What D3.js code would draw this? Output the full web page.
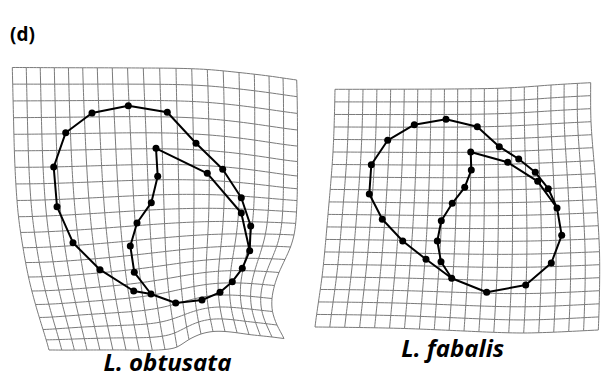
<!DOCTYPE html>
<html>
<head>
<meta charset="utf-8">
<script src="https://cdn.jsdelivr.net/npm/d3@7"></script>
<style>
  body { margin: 0; background: #fff; }
  text { font-family: "Open Sans", sans-serif; }
</style>
</head>
<body>
<svg id="chart" width="605" height="379"></svg>
<script>
const GRID_LINES = 20;

// L. obtusata landmarks (digitised units), outer lip first, then inner lip
const obtusataPoints = [
  [128.3, 45.7], [167.3, 52.3], [196, 83.3], [222.7, 109.3], [241.3, 137.7],
  [250.7, 166], [249.7, 190.7], [242.3, 208.3], [232.3, 221.7], [220, 232.3],
  [202, 240], [175.7, 243], [151, 234], [133.7, 231], [100, 209.7],
  [73, 182.7], [57, 146.7], [53.7, 107], [65.7, 72.7], [92, 53],
  [156, 88.3], [157.7, 116.3], [151.3, 142.7], [137, 163], [130.3, 186],
  [134.3, 212.3], [207.3, 113.3], [241.3, 153]
];
const obtusataPaths = [
  [0, 1, 2, 3, 4, 5, 6, 7, 8, 9, 10, 11, 12, 13, 14, 15, 16, 17, 18, 19, 0],
  [20, 21, 22, 23, 24, 25, 12],
  [20, 26, 27, 6]
];
// deformation grid nodes: [column, row, x, y]
const obtusataGrid = [
  [0, 0, 12.3, 7.5], [3, 0, 54.3, 7.7], [6, 0, 97.3, 7.8], [9, 0, 143.3, 8],
  [11, 0, 176, 8.3], [13, 0, 207.3, 9.5], [15, 0, 239, 12.5], [17, 0, 269, 16],
  [19, 0, 296.7, 20],
  [19, 3, 297.5, 70], [19, 6, 297.5, 116], [19, 9, 296.5, 152], [19, 11, 294, 175],
  [19, 12, 290.5, 187], [19, 13, 285, 199.5], [19, 14, 279, 212.5], [19, 15, 274.5, 225.5],
  [19, 16, 272, 238.5], [19, 17, 272.5, 251.5], [19, 18, 277, 265], [19, 19, 284, 278.5],
  [0, 19, 49, 290], [3, 19, 87, 290], [6, 19, 126, 290], [9, 19, 165, 289.5],
  [10, 19, 177, 287], [11, 19, 189, 279.5], [12, 19, 201, 274], [13, 19, 213, 271.5],
  [14, 19, 225, 271.5], [16, 19, 249, 274.5], [18, 19, 272, 277],
  [0, 3, 13.5, 57.7], [0, 6, 15, 107.3], [0, 9, 18.5, 156.7], [0, 11, 23, 187.7],
  [0, 13, 28.5, 217], [0, 15, 35.5, 244.5], [0, 17, 43, 269.5]
];

// L. fabalis
const fabalisPoints = [
  [146, 59.3], [177.3, 66.7], [199.3, 86.7], [218.7, 99], [235.3, 112.3],
  [248.3, 128.7], [257, 148], [261.7, 175.3], [251.3, 203], [225.7, 225],
  [186.7, 232.3], [151.7, 218.3], [126, 199.3], [102.7, 181], [82.3, 159.3],
  [69.3, 134], [71.3, 104.7], [87.7, 80.3], [114.3, 64.7],
  [170.7, 92], [171.3, 110], [164.7, 127.3], [152.3, 143.3], [141.3, 160.7],
  [137.3, 181], [141, 201.7], [207.7, 102.3], [237.7, 121.3]
];
const fabalisPaths = [
  [0, 1, 2, 3, 4, 5, 6, 7, 8, 9, 10, 11, 12, 13, 14, 15, 16, 17, 18, 0],
  [19, 20, 21, 22, 23, 24, 25, 11],
  [19, 26, 27, 6]
];
const fabalisGrid = [
  [0, 0, 35, 29.3], [5, 0, 104.3, 29.2], [10, 0, 171, 28.8], [12, 0, 197.7, 28.3],
  [14, 0, 224.3, 27], [16, 0, 251, 25], [19, 0, 290.7, 22.7],
  [19, 3, 291, 61.7], [19, 7, 295, 113.7], [19, 10, 297.5, 152.7], [19, 13, 299.5, 191.7],
  [19, 16, 299.5, 230.7], [19, 19, 298.3, 270],
  [0, 19, 15, 267], [6, 19, 104.5, 268.5], [10, 19, 164, 271], [14, 19, 223.7, 273],
  [0, 5, 33, 92], [0, 10, 28, 154.4], [0, 15, 22, 217]
];

const panels = [
  { name: 'L. obtusata', points: obtusataPoints, paths: obtusataPaths, grid: obtusataGrid, left: 0, labelX: 167.5, labelY: 311 },
  { name: 'L. fabalis', points: fabalisPoints, paths: fabalisPaths, grid: fabalisGrid, left: 300, labelX: 152.8, labelY: 297 }
];

// thin-plate spline through the grid nodes
function kernel(r2) { return r2 === 0 ? 0 : r2 * Math.log(r2); }

function fitTps(nodes) {
  const n = nodes.length, size = n + 3;
  const A = [];
  for (let i = 0; i < size; i++) A.push(new Array(size + 2).fill(0));
  nodes.forEach((a, i) => {
    nodes.forEach((b, j) => {
      A[i][j] = kernel((a[0] - b[0]) ** 2 + (a[1] - b[1]) ** 2);
    });
    A[i][n] = 1; A[i][n + 1] = a[0]; A[i][n + 2] = a[1];
    A[n][i] = 1; A[n + 1][i] = a[0]; A[n + 2][i] = a[1];
    A[i][size] = a[2]; A[i][size + 1] = a[3];
  });
  // gaussian elimination
  for (let c = 0; c < size; c++) {
    let p = c;
    for (let r = c + 1; r < size; r++) if (Math.abs(A[r][c]) > Math.abs(A[p][c])) p = r;
    [A[c], A[p]] = [A[p], A[c]];
    for (let r = 0; r < size; r++) {
      if (r === c) continue;
      const f = A[r][c] / A[c][c];
      if (f === 0) continue;
      for (let k = c; k < size + 2; k++) A[r][k] -= f * A[c][k];
    }
  }
  const wx = A.map((row, i) => row[size] / row[i]);
  const wy = A.map((row, i) => row[size + 1] / row[i]);
  return (u, v) => {
    let x = wx[n] + wx[n + 1] * u + wx[n + 2] * v;
    let y = wy[n] + wy[n + 1] * u + wy[n + 2] * v;
    nodes.forEach((a, i) => {
      const k = kernel((u - a[0]) ** 2 + (v - a[1]) ** 2);
      x += wx[i] * k; y += wy[i] * k;
    });
    return [x, y];
  };
}

const svg = d3.select('#chart');

svg.append('text')
  .attr('x', 10).attr('y', 41)
  .style('font-size', '19px').style('font-weight', 700)
  .text('(d)');

const y = d3.scaleLinear().domain([0, 300]).range([60, 360]);
const last = GRID_LINES - 1;
const steps = d3.range(0, last + 0.001, 0.25);

panels.forEach(p => {
  const x = d3.scaleLinear().domain([0, 300]).range([p.left, p.left + 300]);
  const warp = fitTps(p.grid);
  const g = svg.append('g');
  const line = d3.line().x(d => x(d[0])).y(d => y(d[1]));

  const gridLines = [];
  d3.range(GRID_LINES).forEach(k => {
    gridLines.push(steps.map(s => warp(s, k)));  // rows
    gridLines.push(steps.map(s => warp(k, s)));  // columns
  });
  g.append('g').selectAll('path').data(gridLines).enter().append('path')
    .attr('d', line)
    .attr('fill', 'none')
    .attr('stroke', '#7a7a7a')
    .attr('stroke-width', 1);

  g.append('g').selectAll('path').data(p.paths).enter().append('path')
    .attr('d', d => line(d.map(i => p.points[i])))
    .attr('fill', 'none')
    .attr('stroke', '#000')
    .attr('stroke-width', 2)
    .attr('stroke-linejoin', 'round');

  g.append('g').selectAll('circle').data(p.points).enter().append('circle')
    .attr('cx', d => x(d[0]))
    .attr('cy', d => y(d[1]))
    .attr('r', 3.5)
    .attr('fill', '#000');

  g.append('text')
    .attr('x', x(p.labelX)).attr('y', y(p.labelY))
    .attr('text-anchor', 'middle')
    .style('font-size', '24px').style('font-weight', 700).style('font-style', 'italic')
    .text(p.name);
});
</script>
</body>
</html>
